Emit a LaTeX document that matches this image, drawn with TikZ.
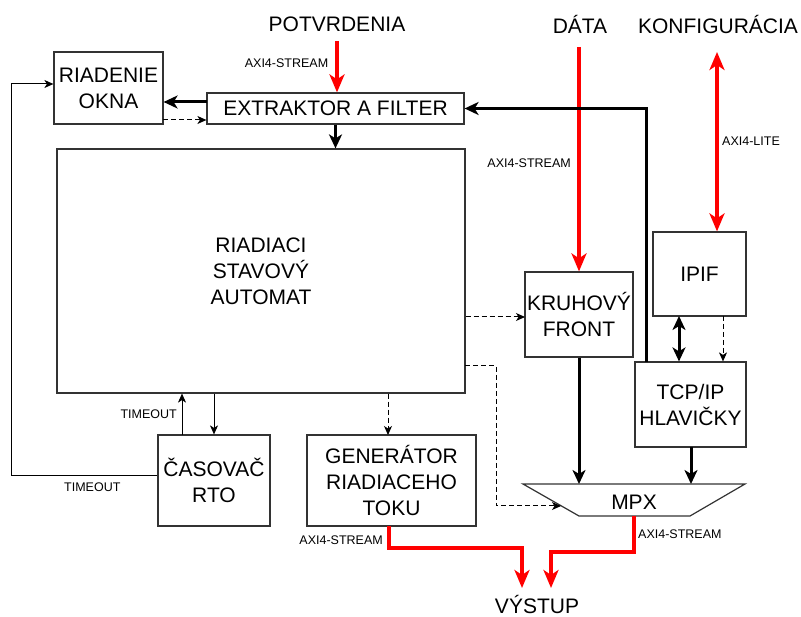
\documentclass[tikz,border=0pt]{standalone}
\usepackage{fontspec}
\setmainfont{Liberation Sans}
\usetikzlibrary{arrows.meta}
\newcommand\mybigf{\fontsize{21}{26}\selectfont}
\newcommand\mysmallf{\fontsize{12.5}{14}\selectfont}
\begin{document}
\begin{tikzpicture}[x=1pt,y=-1pt,
  box/.style={draw=black!80, line width=1.2pt, font=\mybigf, align=center, inner sep=0pt},
  thinarr/.style={line width=1pt, -{Stealth[length=9pt,width=8pt,inset=2.5pt]}},
  dasharr/.style={thinarr, dash pattern=on 5pt off 3pt},
  thickarr/.style={line width=3pt, -{Stealth[length=14pt,width=13pt,inset=4pt]}},
  dblthick/.style={line width=3pt, {Stealth[length=14pt,width=13pt,inset=4pt]}-{Stealth[length=14pt,width=13pt,inset=4pt]}},
  redarr/.style={red, line width=4pt, -{Stealth[length=18pt,width=15pt,inset=5pt]}},
  dblred/.style={red, line width=4pt, {Stealth[length=18pt,width=15pt,inset=5pt]}-{Stealth[length=18pt,width=15pt,inset=5pt]}},
  lab/.style={font=\mysmallf, inner sep=0pt},
  big/.style={font=\mybigf, inner sep=0pt}]
\useasboundingbox (0,0) rectangle (801,617);

% boxes
\node[box, minimum width=109pt, minimum height=72pt] (okna) at (108.5,88) {RIADENIE\\OKNA};
\node[box, minimum width=257pt, minimum height=31pt] (extr) at (335.5,108.5) {EXTRAKTOR A FILTER};
\node[box, minimum width=408pt, minimum height=244pt] (rsa) at (261,271) {RIADIACI\\STAVOVÝ\\AUTOMAT};
\node[box, minimum width=112pt, minimum height=91pt] (rto) at (214,480.5) {ČASOVAČ\\RTO};
\node[box, minimum width=169pt, minimum height=91pt] (gen) at (391.5,480.5) {GENERÁTOR\\RIADIACEHO\\TOKU};
\node[box, minimum width=108pt, minimum height=85pt] (kf) at (579,314.5) {KRUHOVÝ\\FRONT};
\node[box, minimum width=93pt, minimum height=84pt] (ipif) at (699.5,274) {IPIF};
\node[box, minimum width=111pt, minimum height=85pt] (tcp) at (690.5,404.5) {TCP/IP\\HLAVIČKY};
\draw[draw=black!80, line width=1.2pt] (523,484) -- (745,484) -- (690,516) -- (579,516) -- cycle;
\node[big, anchor=base] (mpx) at (634,509) {MPX};

% titles
\node[big, anchor=base] (potv) at (337,32) {POTVRDENIA};
\node[big, anchor=base] (data) at (580,34) {DÁTA};
\node[big, anchor=base] (konf) at (718,34) {KONFIGURÁCIA};
\node[big, anchor=base] (vyst) at (537,613) {VÝSTUP};

% small labels
\node[lab, anchor=base] (l1) at (286.5,68) {AXI4-STREAM};
\node[lab, anchor=base west] (l2) at (722,146) {AXI4-LITE};
\node[lab, anchor=base east] (l3) at (571,168) {AXI4-STREAM};
\node[lab, anchor=base east] (l4) at (177,419) {TIMEOUT};
\node[lab, anchor=base west] (l5) at (64,492) {TIMEOUT};
\node[lab, anchor=base east] (l6) at (383,544) {AXI4-STREAM};
\node[lab, anchor=base west] (l7) at (638,539) {AXI4-STREAM};

% coordinates
\coordinate (potvs) at (337,41);
\coordinate (datas) at (579,47);
\coordinate (konfs) at (717,52);
\coordinate (e1) at (207,102);
\coordinate (o1) at (163,120);
\coordinate (fb) at (646,362);
\coordinate (kfin) at (525,317);
\coordinate (r2) at (465,366);
\coordinate (mpxin) at (561,506);
\coordinate (gin) at (388,435);
\coordinate (t1) at (182,435);
\coordinate (i1) at (679,316);
\coordinate (i2) at (723,316);
\coordinate (tc1) at (691,447);
\coordinate (mpxtop) at (634,484);
\coordinate (mpxbot) at (634,516);
\coordinate (g1) at (389,526);
\coordinate (vy1) at (522,588);
\coordinate (vy2) at (551,588);

% red connectors
\draw[redarr] (potvs) -- (potvs |- extr.north);
\draw[redarr] (datas) -- (datas |- kf.north);
\draw[dblred] (konfs) -- (konfs |- ipif.north);
\draw[red, line width=4pt] (g1) -- ++(0,22) -| ([yshift=10pt]vy1);
\draw[redarr] ([yshift=12pt]vy1) -- (vy1);
\draw[red, line width=4pt] (mpxbot) -- ++(0,36) -| ([yshift=10pt]vy2);
\draw[redarr] ([yshift=12pt]vy2) -- (vy2);

% thick black
\draw[thickarr] (e1) -- (e1 -| okna.east);
\draw[thickarr] (extr.south) -- (extr.south |- rsa.north);
\draw[thickarr] (fb) -- (fb |- extr.east) -- (extr.east);
\draw[thickarr] (kf.south) -- (kf.south |- mpxtop);
\draw[thickarr] (tc1) -- (tc1 |- mpxtop);
\draw[dblthick] (i1) -- (i1 |- tcp.north);

% dashed
\draw[dasharr] (o1) -- (o1 -| extr.west);
\draw[dasharr] (rsa.east |- kfin) -- (kfin);
\draw[dasharr] (r2) -- ++(31,0) |- (mpxin);
\draw[dasharr] (rsa.south -| gin) -- (gin);
\draw[dasharr] (i2) -- (i2 |- tcp.north);

% thin
\draw[thinarr] (t1) -- (t1 |- rsa.south);
\draw[thinarr] (rsa.south -| rto.north) -- (rto.north);
\draw[thinarr] ([yshift=4.5pt]rto.west) -- ++(-146,0) |- ([yshift=4pt]okna.west);
\end{tikzpicture}
\end{document}
